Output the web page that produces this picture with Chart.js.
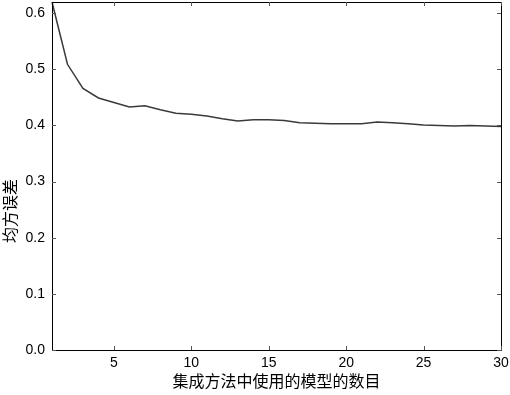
<!DOCTYPE html>
<html>
<head>
<meta charset="utf-8">
<script src="https://cdn.jsdelivr.net/npm/chart.js@4/dist/chart.umd.min.js"></script>
<style>
html,body{margin:0;padding:0;background:#fff;}
#wrap{width:510px;height:395px;position:relative;}
</style>
</head>
<body>
<div id="wrap"><canvas id="c" width="510" height="395"></canvas></div>
<script>
const models = [1,2,3,4,5,6,7,8,9,10,11,12,13,14,15,16,17,18,19,20,21,22,23,24,25,26,27,28,29,30];
const mse = [0.620,0.509,0.466,0.449,0.441,0.433,0.435,0.428,0.422,0.420,0.417,0.412,0.408,0.410,0.410,0.409,0.405,0.404,0.403,0.403,0.403,0.406,0.405,0.403,0.401,0.400,0.399,0.400,0.399,0.398];
const xTicks = [5,10,15,20,25,30];
const yTicks = [0.0,0.1,0.2,0.3,0.4,0.5,0.6];
const xTitle = '集成方法中使用的模型的数目';
const yTitle = '均方误差';

const tickFont = {family:"'Liberation Sans', Arial, sans-serif", size:14};
const cjkFont = "16px 'Noto Sans CJK SC', sans-serif";

const framePlugin = {
  id:'frame',
  afterDatasetsDraw(chart){
    const {ctx, chartArea:a, scales:{x,y}} = chart;
    ctx.save();
    ctx.strokeStyle = '#000';
    ctx.lineWidth = 1;
    ctx.beginPath();
    ctx.rect(Math.round(a.left)+0.5, Math.round(a.top)+0.5, Math.round(a.right-a.left), Math.round(a.bottom-a.top));
    ctx.stroke();
    ctx.strokeStyle = '#555';
    const tl = 4;
    ctx.beginPath();
    xTicks.forEach(v=>{
      const px = Math.round(x.getPixelForValue(v))+0.5;
      ctx.moveTo(px, a.bottom); ctx.lineTo(px, a.bottom-tl);
      ctx.moveTo(px, a.top); ctx.lineTo(px, a.top+tl);
    });
    yTicks.forEach(v=>{
      const py = Math.round(y.getPixelForValue(v))+0.5;
      ctx.moveTo(a.left, py); ctx.lineTo(a.left+tl, py);
      ctx.moveTo(a.right, py); ctx.lineTo(a.right-tl, py);
    });
    ctx.stroke();
    // titles
    ctx.fillStyle = '#000';
    ctx.font = cjkFont;
    ctx.textAlign = 'center';
    ctx.textBaseline = 'middle';
    ctx.fillText(xTitle, (a.left+a.right)/2, 381);
    ctx.translate(10, 211);
    ctx.rotate(-Math.PI/2);
    ctx.fillText(yTitle, 0, 0);
    ctx.restore();
  }
};

new Chart(document.getElementById('c'), {
  type:'line',
  data:{
    datasets:[{
      data: models.map((m,i)=>({x:m, y:mse[i]})),
      borderColor:'#3a3a3a',
      borderWidth:1.5,
      pointRadius:0,
      tension:0,
      fill:false,
      clip:false
    }]
  },
  options:{
    responsive:false,
    animation:false,
    devicePixelRatio:1,
    layout:{padding:{top:2,right:9,left:0,bottom:0}},
    plugins:{legend:{display:false}, tooltip:{enabled:false}},
    scales:{
      x:{
        type:'linear', min:1, max:30,
        grid:{display:false, drawTicks:false},
        border:{display:false},
        afterBuildTicks(s){ s.ticks = xTicks.map(v=>({value:v})); },
        afterFit(s){ s.height = 45; s.paddingLeft = 0; s.paddingRight = 0; s.paddingTop = 0; s.paddingBottom = 0; },
        ticks:{color:'#000', font:tickFont, padding:5, maxRotation:0, autoSkip:false,
               callback:(v)=>String(v)}
      },
      y:{
        type:'linear', min:0, max:0.62,
        grid:{display:false, drawTicks:false},
        border:{display:false},
        afterBuildTicks(s){ s.ticks = yTicks.map(v=>({value:v})); },
        afterFit(s){ s.width = 52; s.paddingTop = 0; s.paddingBottom = 0; s.paddingLeft = 0; s.paddingRight = 0; },
        ticks:{color:'#000', font:tickFont, padding:7, autoSkip:false,
               callback:(v)=>Number(v).toFixed(1)}
      }
    }
  },
  plugins:[framePlugin]
});
</script>
</body>
</html>
